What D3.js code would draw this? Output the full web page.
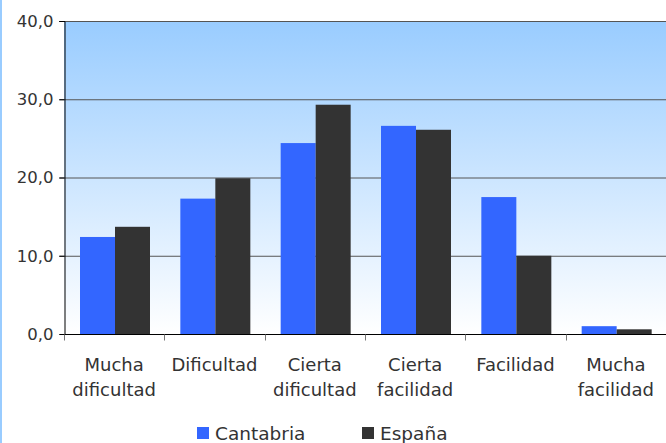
<!DOCTYPE html>
<html><head><meta charset="utf-8">
<script src="https://cdn.jsdelivr.net/npm/d3@7"></script>
<style>body{margin:0;background:#fff}svg{display:block}</style>
</head><body>
<script>
const categories = [["Mucha","dificultad"],["Dificultad"],["Cierta","dificultad"],["Cierta","facilidad"],["Facilidad"],["Mucha","facilidad"]];
const seriesNames = ["Cantabria","España"];
const cantabria = [12.4, 17.3, 24.4, 26.6, 17.5, 1.0];
const espana = [13.7, 19.9, 29.3, 26.1, 10.0, 0.6];
const yTicks = [0, 10, 20, 30, 40];
const colors = ["#3366ff","#333333"];

const W = 666, H = 443;
const m = {l:64, t:21, r:0, b:109};
const svg = d3.select("body").append("svg").attr("width",W).attr("height",H);
const defs = svg.append("defs");
const g = defs.append("linearGradient").attr("id","bg").attr("x1",0).attr("y1",0).attr("x2",0).attr("y2",1);
g.append("stop").attr("offset","0%").attr("stop-color","#99ccff");
g.append("stop").attr("offset","100%").attr("stop-color","#ffffff");

svg.append("line").attr("x1",1).attr("x2",1).attr("y1",0).attr("y2",H).attr("stroke","#99ccff").attr("stroke-width",2);

const x = d3.scaleBand().domain(d3.range(categories.length)).range([m.l, W-m.r]);
const y = d3.scaleLinear().domain([0,40]).range([H-m.b, m.t]);

svg.append("rect").attr("x",m.l).attr("y",m.t).attr("width",W-m.r-m.l).attr("height",H-m.b-m.t).attr("fill","url(#bg)");

// gridlines
svg.append("g").selectAll("line").data(yTicks.filter(d=>d>0)).join("line")
  .attr("x1",m.l-5).attr("x2",W).attr("y1",d=>y(d)+0.5).attr("y2",d=>y(d)+0.5)
  .attr("stroke","#555").attr("stroke-width",1);

// bars
const bw = 35;
const data = [cantabria, espana];
data.forEach((vals, si) => {
  svg.append("g").selectAll("rect").data(vals).join("rect")
    .attr("x",(d,i)=>x(i)+16+si*bw)
    .attr("y",d=>y(d))
    .attr("width",bw)
    .attr("height",d=>y(0)-y(d))
    .attr("fill",colors[si]);
});

const FONT = "'DejaVu Sans', sans-serif";
// y axis
const yAxis = d3.axisLeft(y).tickValues(yTicks).tickSize(5).tickPadding(6)
  .tickFormat(d=>d3.format(".1f")(d).replace(".",","));
const ya = svg.append("g").attr("transform",`translate(${m.l+0.5},0)`).call(yAxis);
ya.select(".domain").attr("stroke","#000");
ya.selectAll(".tick line").attr("stroke","#000");
ya.selectAll(".tick text").attr("font-family",FONT).attr("font-size",16.5).attr("fill","#333");

// x axis
const xa = svg.append("g").attr("transform",`translate(0,${y(0)+0.5})`);
xa.append("line").attr("x1",m.l).attr("x2",W).attr("stroke","#000").attr("stroke-width",1.2);
xa.selectAll(".xt").data(d3.range(categories.length).map(i=>x(i))).join("line")
  .attr("x1",d=>Math.round(d)+0.5).attr("x2",d=>Math.round(d)+0.5).attr("y1",0).attr("y2",6)
  .attr("stroke","#777");
const lbl = xa.selectAll(".xl").data(categories).join("text")
  .attr("x",(d,i)=>x(i)+x.bandwidth()/2)
  .attr("text-anchor","middle")
  .attr("font-family",FONT).attr("font-size",18).attr("fill","#333");
lbl.each(function(d){
  const t = d3.select(this);
  d.forEach((s,k)=>t.append("tspan").attr("x",t.attr("x")).attr("y",36+k*25).text(s));
});

// legend
const legX = [197, 362];
seriesNames.forEach((n,i)=>{
  svg.append("rect").attr("x",legX[i]).attr("y",427).attr("width",12).attr("height",12).attr("fill",colors[i]);
  svg.append("text").attr("x",legX[i]+18).attr("y",440).text(n)
    .attr("font-family",FONT).attr("font-size",18.5).attr("fill","#333");
});
</script>
</body></html>
